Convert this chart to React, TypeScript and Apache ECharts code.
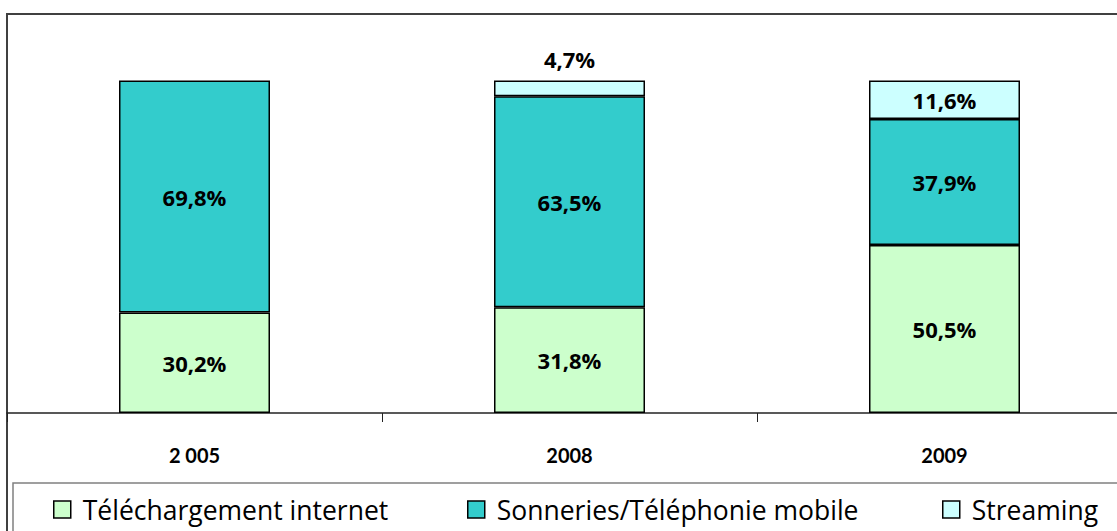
import React, { useEffect, useRef } from 'react';
import * as echarts from 'echarts';

const categories = ['2 005', '2008', '2009'];
const telechargement = [30.2, 31.8, 50.5];
const sonneries = [69.8, 63.5, 37.9];
const streaming: (number | null)[] = [null, 4.7, 11.6];
const seriesNames = ['Téléchargement internet', 'Sonneries/Téléphonie mobile', 'Streaming'];
const colors = ['#CCFFCC', '#33CCCC', '#CCFFFF'];
const legendLefts = [53, 467, 942];

const FONT_AXIS = 'Lato, "Noto Sans", sans-serif';
const FONT = '"Open Sans", "Noto Sans", sans-serif';

const fmt = (v: number) => v.toFixed(1).replace('.', ',') + '%';

export default function App() {
  const ref = useRef<HTMLDivElement>(null);
  useEffect(() => {
    if (!ref.current) return;
    const chart = echarts.init(ref.current, null, { renderer: 'svg' });
    const seriesData = [telechargement, sonneries, streaming];
    const series = seriesData.map((arr, si) => ({
      name: seriesNames[si],
      type: 'bar',
      stack: 'total',
      barWidth: 151,
      itemStyle: { color: colors[si], borderColor: '#000', borderWidth: 1.5 },
      label: {
        show: true,
        position: 'inside',
        color: '#000',
        fontFamily: FONT,
        fontWeight: 'bold',
        fontSize: 22,
        formatter: (p: any) => fmt(p.value),
      },
      data: arr.map((v) => {
        if (v === null) return { value: null, label: { show: false } };
        if (v < 6) return { value: v, label: { position: 'top', distance: 11 } };
        return { value: v };
      }),
    }));
    chart.setOption({
      animation: false,
      backgroundColor: '#fff',
      grid: { left: 7, right: 8, top: 14, bottom: 118 },
      xAxis: {
        type: 'category',
        data: categories,
        axisLine: { lineStyle: { color: '#222', width: 1.5 } },
        axisTick: { show: true, length: 9, lineStyle: { color: '#222', width: 1 } },
        axisLabel: {
          margin: 32,
          color: '#000',
          fontFamily: FONT_AXIS,
          fontWeight: 'bold',
          fontSize: 20,
        },
      },
      yAxis: { type: 'value', min: 0, max: 120, show: false },
      legend: seriesNames.map((n, i) => ({
        data: [n],
        left: legendLefts[i],
        top: 496,
        padding: 0,
        icon: 'rect',
        itemWidth: 17,
        itemHeight: 17,
        selectedMode: false,
        itemStyle: { borderColor: '#000', borderWidth: 1.5 },
        textStyle: { color: '#000', fontFamily: FONT, fontSize: 26.5, padding: [0, 0, 0, 7] },
      })),
      graphic: [
        {
          type: 'rect',
          shape: { x: 7, y: 14, width: 1200, height: 600 },
          style: { fill: 'none', stroke: '#404040', lineWidth: 2 },
          silent: true,
        },
        {
          type: 'rect',
          shape: { x: 13, y: 483, width: 1200, height: 100 },
          style: { fill: 'none', stroke: '#808080', lineWidth: 1.5 },
          silent: true,
        },
      ],
      series,
    });
    return () => chart.dispose();
  }, []);
  return (
    <div
      ref={ref}
      style={{ position: 'fixed', left: 0, top: 0, width: 1140, height: 531, background: '#fff' }}
    />
  );
}
